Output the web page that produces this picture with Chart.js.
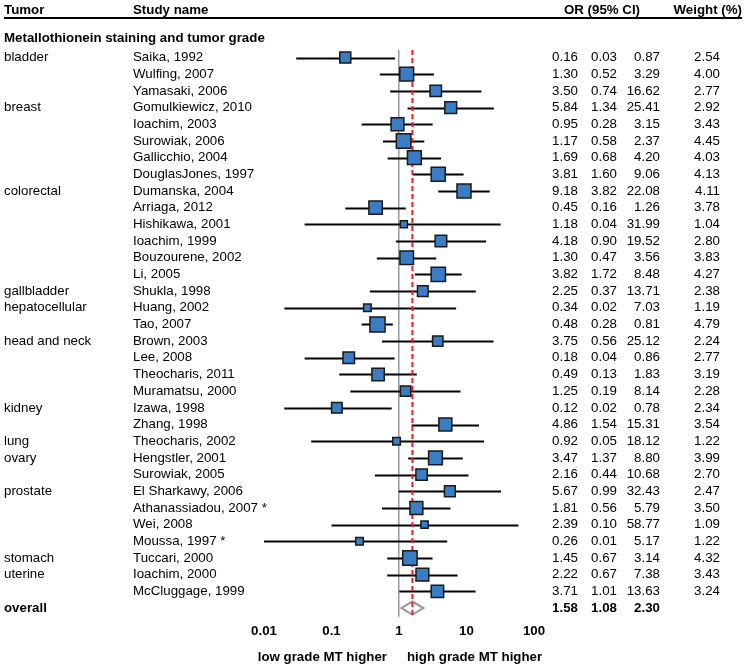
<!DOCTYPE html>
<html>
<head>
<meta charset="utf-8">
<script src="https://cdn.jsdelivr.net/npm/chart.js@4/dist/chart.umd.min.js"></script>
<style>
body{margin:0;background:#fff;}
#wrap{width:745px;height:668px;position:relative;}
</style>
</head>
<body>
<div id="wrap"><canvas id="forest"></canvas></div>
<script>
const tumors = ['bladder', '', '', 'breast', '', '', '', '', 'colorectal', '', '', '', '', '',
  'gallbladder', 'hepatocellular', '', 'head and neck', '', '', '', 'kidney', '', 'lung',
  'ovary', '', 'prostate', '', '', '', 'stomach', 'uterine', ''];
const studies = ['Saika, 1992', 'Wulfing, 2007', 'Yamasaki, 2006', 'Gomulkiewicz, 2010',
  'Ioachim, 2003', 'Surowiak, 2006', 'Gallicchio, 2004', 'DouglasJones, 1997',
  'Dumanska, 2004', 'Arriaga, 2012', 'Hishikawa, 2001', 'Ioachim, 1999', 'Bouzourene, 2002',
  'Li, 2005', 'Shukla, 1998', 'Huang, 2002', 'Tao, 2007', 'Brown, 2003', 'Lee, 2008',
  'Theocharis, 2011', 'Muramatsu, 2000', 'Izawa, 1998', 'Zhang, 1998', 'Theocharis, 2002',
  'Hengstler, 2001', 'Surowiak, 2005', 'El Sharkawy, 2006', 'Athanassiadou, 2007 *',
  'Wei, 2008', 'Moussa, 1997 *', 'Tuccari, 2000', 'Ioachim, 2000', 'McCluggage, 1999'];
const oddsRatio = [0.16, 1.30, 3.50, 5.84, 0.95, 1.17, 1.69, 3.81, 9.18, 0.45, 1.18, 4.18, 1.30,
  3.82, 2.25, 0.34, 0.48, 3.75, 0.18, 0.49, 1.25, 0.12, 4.86, 0.92, 3.47, 2.16, 5.67, 1.81,
  2.39, 0.26, 1.45, 2.22, 3.71];
const lowerCI = [0.03, 0.52, 0.74, 1.34, 0.28, 0.58, 0.68, 1.60, 3.82, 0.16, 0.04, 0.90, 0.47,
  1.72, 0.37, 0.02, 0.28, 0.56, 0.04, 0.13, 0.19, 0.02, 1.54, 0.05, 1.37, 0.44, 0.99, 0.56,
  0.10, 0.01, 0.67, 0.67, 1.01];
const upperCI = [0.87, 3.29, 16.62, 25.41, 3.15, 2.37, 4.20, 9.06, 22.08, 1.26, 31.99, 19.52,
  3.56, 8.48, 13.71, 7.03, 0.81, 25.12, 0.86, 1.83, 8.14, 0.78, 15.31, 18.12, 8.80, 10.68,
  32.43, 5.79, 58.77, 5.17, 3.14, 7.38, 13.63];
const weights = [2.54, 4.00, 2.77, 2.92, 3.43, 4.45, 4.03, 4.13, 4.11, 3.78, 1.04, 2.80, 3.83,
  4.27, 2.38, 1.19, 4.79, 2.24, 2.77, 3.19, 2.28, 2.34, 3.54, 1.22, 3.99, 2.70, 2.47, 3.50,
  1.09, 1.22, 4.32, 3.43, 3.24];
const overall = {or: 1.58, lo: 1.08, hi: 2.30};
const xTicks = [0.01, 0.1, 1, 10, 100];

const overallRow = studies.length;
const FONT = "'Liberation Sans', Arial, sans-serif";

// whiskers under the squares, diamond for the pooled estimate
const forestMarks = {
  id: 'forestMarks',
  beforeDatasetsDraw(chart) {
    const {ctx, scales: {x, y}} = chart;
    ctx.save();
    ctx.strokeStyle = '#000';
    ctx.lineWidth = 2;
    studies.forEach((s, i) => {
      const py = Math.round(y.getPixelForValue(i)) + 0.5;
      ctx.beginPath();
      ctx.moveTo(x.getPixelForValue(lowerCI[i]), py);
      ctx.lineTo(x.getPixelForValue(upperCI[i]), py);
      ctx.stroke();
    });
    const dy = y.getPixelForValue(overallRow);
    ctx.strokeStyle = '#999';
    ctx.beginPath();
    ctx.moveTo(x.getPixelForValue(overall.lo), dy);
    ctx.lineTo(x.getPixelForValue(overall.or), dy - 6.5);
    ctx.lineTo(x.getPixelForValue(overall.hi), dy);
    ctx.lineTo(x.getPixelForValue(overall.or), dy + 6.5);
    ctx.closePath();
    ctx.stroke();
    ctx.restore();
  }
};

const textColumns = {
  id: 'textColumns',
  afterDraw(chart) {
    const {ctx, scales: {y}} = chart;
    const bold = 'bold 13.3px ' + FONT;
    const normal = '13.3px ' + FONT;
    ctx.save();
    ctx.fillStyle = '#000';
    ctx.textBaseline = 'middle';

    ctx.font = bold;
    ctx.textAlign = 'left';
    ctx.fillText('Tumor', 4, 10);
    ctx.fillText('Study name', 133, 10);
    ctx.fillText('Metallothionein staining and tumor grade', 4, 38);
    ctx.textAlign = 'center';
    ctx.fillText('OR (95% CI)', 602, 10);
    ctx.textAlign = 'right';
    ctx.fillText('Weight (%)', 742, 10);

    ctx.strokeStyle = '#000';
    ctx.lineWidth = 2;
    ctx.beginPath();
    ctx.moveTo(4, 18);
    ctx.lineTo(742, 18);
    ctx.stroke();

    ctx.font = normal;
    studies.forEach((s, i) => {
      const py = y.getPixelForValue(i);
      ctx.textAlign = 'left';
      ctx.fillText(tumors[i], 4, py);
      ctx.fillText(s, 133, py);
      ctx.textAlign = 'right';
      ctx.fillText(oddsRatio[i].toFixed(2), 578, py);
      ctx.fillText(lowerCI[i].toFixed(2), 617, py);
      ctx.fillText(upperCI[i].toFixed(2), 660, py);
      ctx.fillText(weights[i].toFixed(2), 720, py);
    });

    const oy = y.getPixelForValue(overallRow);
    ctx.font = bold;
    ctx.textAlign = 'left';
    ctx.fillText('overall', 4, oy);
    ctx.textAlign = 'right';
    ctx.fillText(overall.or.toFixed(2), 578, oy);
    ctx.fillText(overall.lo.toFixed(2), 617, oy);
    ctx.fillText(overall.hi.toFixed(2), 660, oy);

    ctx.fillText('low grade MT higher', 387, 657);
    ctx.textAlign = 'left';
    ctx.fillText('high grade MT higher', 407, 657);
    ctx.restore();
  }
};

new Chart(document.getElementById('forest'), {
  type: 'scatter',
  data: {
    datasets: [
      {
        label: 'OR',
        data: oddsRatio.map((v, i) => ({x: v, y: i})),
        pointStyle: 'rect',
        pointRadius: weights.map(w => 6.9 * Math.sqrt(w) / Math.SQRT2),
        backgroundColor: '#3b7dc4',
        borderColor: '#1a1a1a',
        borderWidth: 1.5,
      },
      {
        type: 'line',
        label: 'pooled',
        data: [{x: overall.or, y: -0.45}, {x: overall.or, y: 33.54}],
        borderColor: '#d9262e',
        borderWidth: 2,
        borderDash: [5, 3],
        pointRadius: 0,
      },
    ]
  },
  options: {
    responsive: true,
    maintainAspectRatio: false,
    animation: false,
    events: [],
    layout: {
      padding: {left: 264, right: 211, top: 50, bottom: 23}
    },
    scales: {
      x: {
        type: 'logarithmic',
        min: 0.01,
        max: 100,
        afterBuildTicks: axis => { axis.ticks = xTicks.map(v => ({value: v})); },
        ticks: {
          callback: v => String(v),
          color: '#000',
          padding: 6,
          maxRotation: 0,
          autoSkip: false,
          font: {family: FONT, size: 13.3, weight: 'bold'},
        },
        grid: {
          color: c => (c.tick && c.tick.value === 1) ? '#999' : 'rgba(0,0,0,0)',
          lineWidth: 1.5,
          drawTicks: false,
        },
        border: {display: false},
      },
      y: {
        type: 'linear',
        display: false,
        reverse: true,
        min: -0.45,
        max: 33.54,
      },
    },
    plugins: {
      legend: {display: false},
      tooltip: {enabled: false},
    },
  },
  plugins: [forestMarks, textColumns],
});
</script>
</body>
</html>
